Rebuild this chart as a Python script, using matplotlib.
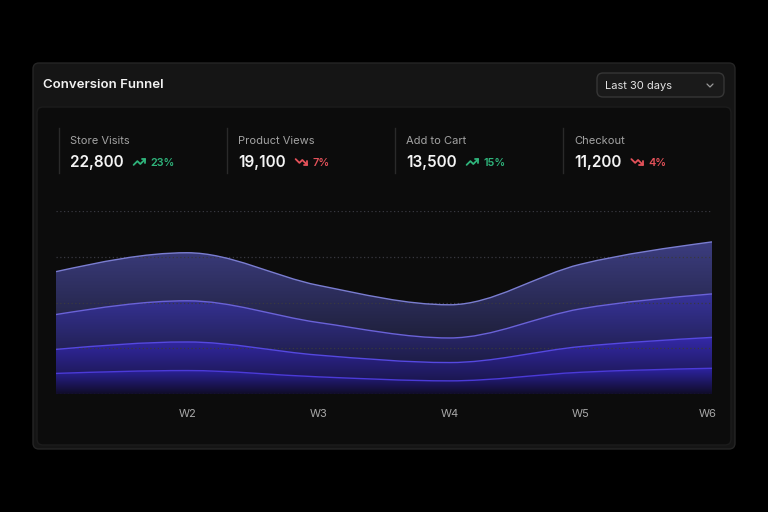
import numpy as np
import matplotlib
matplotlib.use('Agg')
import matplotlib.pyplot as plt
from matplotlib.patches import FancyBboxPatch, PathPatch
from matplotlib.path import Path
from matplotlib.colors import to_rgb
from matplotlib.transforms import ScaledTranslation

plt.rcParams['font.family'] = ['Inter', 'DejaVu Sans']

# data (weekly, stacked)
weeks = ['W1', 'W2', 'W3', 'W4', 'W5', 'W6']
store_visits = [3750, 4200, 3250, 2900, 3900, 4550]
product_views = [3050, 3600, 2850, 2150, 3300, 3800]
add_to_cart = [2100, 2500, 1900, 1600, 2250, 2700]
checkout = [1800, 2050, 1500, 1150, 1900, 2250]

kpi_labels = ['Store Visits', 'Product Views', 'Add to Cart', 'Checkout']
kpi_values = ['22,800', '19,100', '13,500', '11,200']
kpi_changes = ['23%', '7%', '15%', '4%']
kpi_up = [True, False, True, False]

y_ticks = [0, 4000, 8000, 12000, 16000]

W, H = 768, 512
fig = plt.figure(figsize=(W / 100, H / 100), dpi=100, facecolor='#000000')

# background axes in pixel coords (y down)
bg = fig.add_axes([0, 0, 1, 1])
bg.set_xlim(0, W)
bg.set_ylim(H, 0)
bg.axis('off')
bg.set_zorder(0)


def rbox(x0, y0, x1, y1, r, fc, ec, lw=1.0):
    p = FancyBboxPatch((x0, y0), x1 - x0, y1 - y0,
                       boxstyle=f'round,pad=0,rounding_size={r}',
                       facecolor=fc, edgecolor=ec, linewidth=lw)
    bg.add_patch(p)


rbox(33, 63, 735, 449, 6, '#151515', '#252525')
rbox(37, 107, 731, 445, 6, '#0c0c0c', '#1c1c1c')
rbox(597, 73, 724, 97, 6, '#1a1a1a', '#363636')

bg.text(43, 85.5, 'Conversion Funnel', color='#f2f2f2', fontsize=9.5,
        fontweight='semibold', va='center', ha='left')
bg.text(605, 86, 'Last 30 days', color='#e4e4e4', fontsize=8,
        va='center', ha='left')
bg.plot([707, 710, 713], [84, 87, 84], color='#9a9a9a', lw=0.9,
        solid_capstyle='round', solid_joinstyle='round')

# KPI row
renderer = fig.canvas.get_renderer()
up_icon = [[(22, 7), (13.5, 15.5), (8.5, 10.5), (2, 17)], [(16, 7), (22, 7), (22, 13)]]
down_icon = [[(22, 17), (13.5, 8.5), (8.5, 13.5), (2, 7)], [(16, 17), (22, 17), (22, 11)]]

for i, (lab, val, chg, up) in enumerate(zip(kpi_labels, kpi_values, kpi_changes, kpi_up)):
    x0 = 59 + i * 168
    bg.plot([x0, x0], [128, 173], color='#2a2a2a', lw=1.0)
    bg.text(x0 + 11, 141, lab, color='#a3a3a3', fontsize=8, va='center', ha='left')
    t = bg.text(x0 + 11, 162.5, val, color='#f4f4f4', fontsize=11,
                fontweight='semibold', va='center', ha='left')
    xe = t.get_window_extent(renderer=renderer).x1
    col = '#2fb57c' if up else '#e5525a'
    ix = xe + 10
    s = 0.58
    for seg in (up_icon if up else down_icon):
        bg.plot([ix + (p[0] - 2) * s for p in seg], [162 + (p[1] - 12) * s for p in seg],
                color=col, lw=1.3, solid_capstyle='round', solid_joinstyle='round')
    bg.text(ix + 17, 162.5, chg, color=col, fontsize=7.8, fontweight='semibold',
            va='center', ha='left')

# chart
ax = fig.add_axes([56 / W, 1 - 394 / H, 656 / W, 183 / H])
ax.set_zorder(1)
ax.set_facecolor('none')
x = np.arange(len(weeks), dtype=float)


def monotone(xs, ys):
    ys = np.asarray(ys, float)
    h = np.diff(xs)
    s = np.diff(ys) / h
    n = len(xs)
    t = np.zeros(n)
    for k in range(1, n - 1):
        p = (s[k - 1] * h[k] + s[k] * h[k - 1]) / (h[k - 1] + h[k])
        t[k] = (np.sign(s[k - 1]) + np.sign(s[k])) * min(abs(s[k - 1]), abs(s[k]), 0.5 * abs(p))
    t[0] = (3 * s[0] - t[1]) / 2
    t[-1] = (3 * s[-1] - t[-2]) / 2
    verts = [(xs[0], ys[0])]
    for k in range(n - 1):
        d = h[k] / 3
        verts += [(xs[k] + d, ys[k] + d * t[k]), (xs[k + 1] - d, ys[k + 1] - d * t[k + 1]),
                  (xs[k + 1], ys[k + 1])]
    return verts


c1 = np.array(checkout, float)
c2 = c1 + np.array(add_to_cart)
c3 = c2 + np.array(product_views)
c4 = c3 + np.array(store_visits)
zero = np.zeros_like(c1)

bands = [
    (zero, c1, '#2d24a2', '#100c28', '#4b3ad8'),
    (c1, c2, '#3429a8', '#1b1750', '#5548e0'),
    (c2, c3, '#37339a', '#1e1d46', '#6a62d8'),
    (c3, c4, '#3c3d80', '#1f203c', '#7a7dd0'),
]

nseg = len(x) - 1
line_codes = [Path.MOVETO] + [Path.CURVE4] * 3 * nseg
for lower, upper, ctop, cbot, cline in bands:
    uv = monotone(x, upper)
    lv = monotone(x, lower)[::-1]
    verts = uv + lv + [uv[0]]
    codes = line_codes + [Path.LINETO] + [Path.CURVE4] * 3 * nseg + [Path.CLOSEPOLY]
    patch = PathPatch(Path(verts, codes), facecolor='none', edgecolor='none')
    ax.add_patch(patch)
    g = np.linspace(0, 1, 256)[:, None]
    a = np.array(to_rgb(cbot))
    b = np.array(to_rgb(ctop))
    img = (a + (b - a) * g)[:, None, :]
    im = ax.imshow(img, extent=[0, x[-1], lower.min(), upper.max()], origin='lower',
                   aspect='auto', interpolation='bilinear', zorder=1)
    im.set_clip_path(patch)
    ax.add_patch(PathPatch(Path(uv, line_codes), fill=False, edgecolor=cline, lw=1.0, zorder=3))

ax.set_xlim(0, x[-1])
ax.set_ylim(y_ticks[0], y_ticks[-1])
ax.set_yticks(y_ticks)
ax.set_yticklabels([])
ax.set_xticks(x[1:])
ax.set_xticklabels(weeks[1:])
ax.tick_params(length=0, colors='#a8a8a8', labelsize=8, pad=11)
ax.tick_params(axis='y', left=False)
last = ax.get_xticklabels()[-1]
last.set_transform(last.get_transform() + ScaledTranslation(-4 / 100, 0, fig.dpi_scale_trans))
ax.grid(axis='y', color='#383840', lw=0.9, linestyle=(0, (1, 2)))
ax.set_axisbelow(False)
for sp in ax.spines.values():
    sp.set_visible(False)

fig.savefig('out.png', dpi=100, facecolor=fig.get_facecolor())
